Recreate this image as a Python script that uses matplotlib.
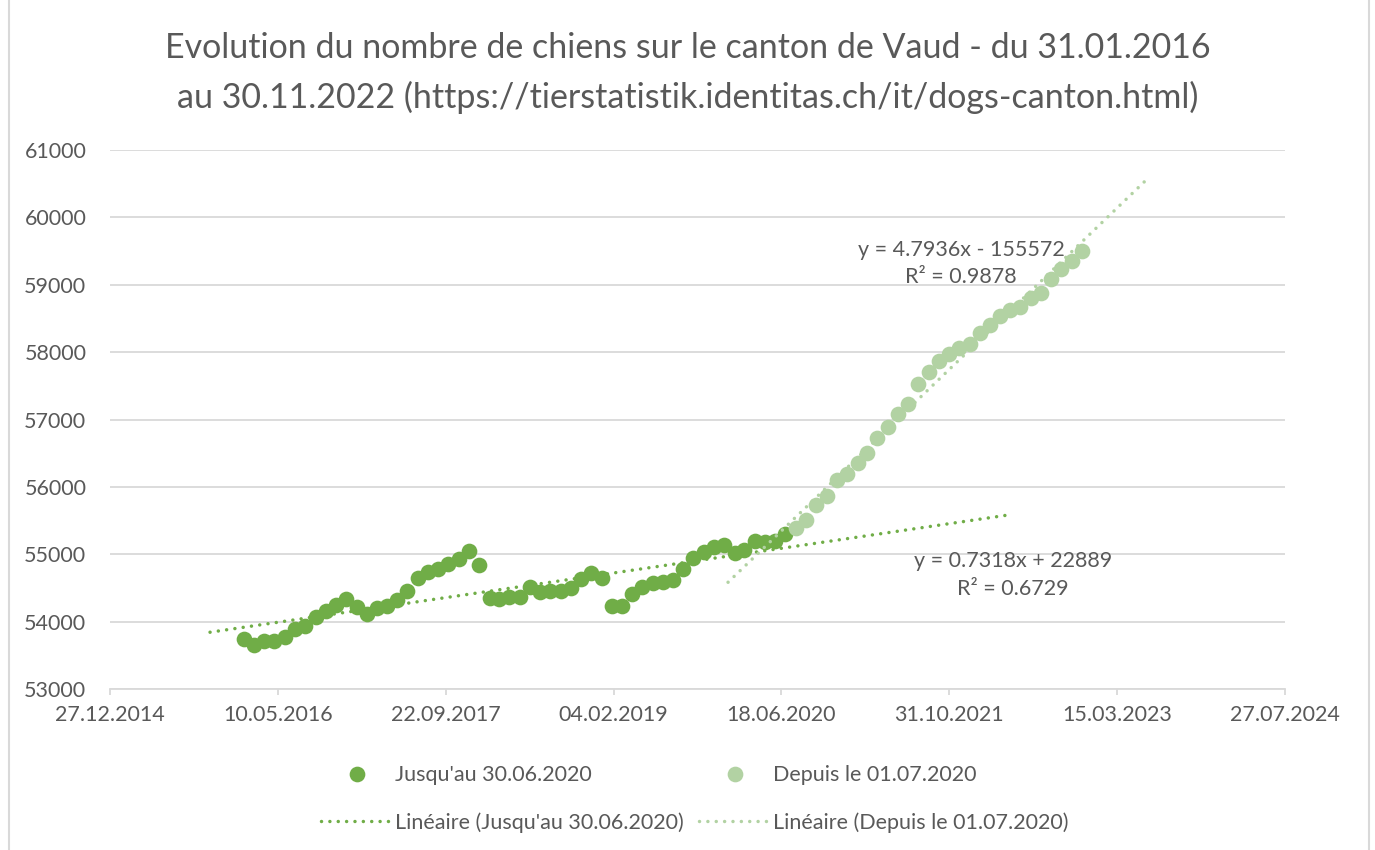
import matplotlib
matplotlib.use('Agg')
import matplotlib.pyplot as plt
import pandas as pd
import numpy as np
from matplotlib.lines import Line2D

plt.rcParams['font.family'] = ['Lato', 'DejaVu Sans']

# ---------------- data ----------------
EXCEL_EPOCH = pd.Timestamp('1899-12-30')

title_text = ("Evolution du nombre de chiens sur le canton de Vaud - du 31.01.2016\n"
              "au 30.11.2022 (https://tierstatistik.identitas.ch/it/dogs-canton.html)")

before_label = "Jusqu'au 30.06.2020"
before_start = '2016-01-31'
before_values = [53744, 53660, 53719, 53719, 53769, 53892, 53941, 54065, 54163, 54247,
                 54336, 54213, 54114, 54198, 54228, 54326, 54459, 54642, 54731, 54780,
                 54854, 54928, 55051, 54844, 54346, 54336, 54370, 54361, 54509, 54444,
                 54459, 54459, 54499, 54632, 54716, 54642, 54228, 54237, 54410, 54509,
                 54573, 54592, 54622, 54780, 54938, 55027, 55101, 55135, 55017, 55066,
                 55199, 55184, 55199, 55298]

after_label = "Depuis le 01.07.2020"
after_start = '2020-07-31'
after_values = [55391, 55504, 55737, 55860, 56108, 56198, 56357, 56505, 56728, 56892,
                57080, 57230, 57520, 57703, 57866, 57966, 58055, 58114, 58288, 58397,
                58535, 58624, 58675, 58808, 58872, 59080, 59239, 59352, 59501]

# trendlines as displayed (x = Excel date serial)
before_slope, before_intercept, before_r2 = 0.7318, 22889, 0.6729
after_slope, after_intercept, after_r2 = 4.7936, -155572, 0.9878
before_trend_range = ['2015-10-21', '2022-04-15']
after_trend_range = ['2020-01-11', '2023-06-11']

x_tick_labels = ['27.12.2014', '10.05.2016', '22.09.2017', '04.02.2019',
                 '18.06.2020', '31.10.2021', '15.03.2023', '27.07.2024']
y_ticks = [53000, 54000, 55000, 56000, 57000, 58000, 59000, 60000, 61000]


def to_serial(dates):
    return np.asarray((pd.to_datetime(dates) - EXCEL_EPOCH).days, dtype=float)


before_x = to_serial(pd.date_range(before_start, periods=len(before_values), freq='ME'))
after_x = to_serial(pd.date_range(after_start, periods=len(after_values), freq='ME'))
x_ticks = to_serial(pd.to_datetime(x_tick_labels, format='%d.%m.%Y'))

# ---------------- styling ----------------
DARK = '#70AD47'
LIGHT = '#B2D2A3'
TEXT = '#595959'
GRID = '#D9D9D9'

W, H = 1375, 850
fig = plt.figure(figsize=(W / 100, H / 100), dpi=100)
fig.patch.set_facecolor('white')

ax = fig.add_axes([110 / W, 1 - 689 / H, 1175 / W, 539 / H])

ms = 11.3
ax.plot(before_x, before_values, 'o', color=DARK, ms=ms, mec='none', zorder=3)
ax.plot(after_x, after_values, 'o', color=LIGHT, ms=ms, mec='none', zorder=3)

dot_style = (0, (0.01, 2.4))
bx = to_serial(before_trend_range)
ax.plot(bx, before_slope * bx + before_intercept, color=DARK, lw=2.5,
        linestyle=dot_style, dash_capstyle='round', zorder=4)
axx = to_serial(after_trend_range)
ax.plot(axx, after_slope * axx + after_intercept, color=LIGHT, lw=2.5,
        linestyle=dot_style, dash_capstyle='round', zorder=4)

ax.set_xlim(x_ticks[0], x_ticks[-1])
ax.set_ylim(y_ticks[0], y_ticks[-1])
ax.set_xticks(x_ticks)
ax.set_xticklabels(x_tick_labels)
ax.set_yticks(y_ticks)
ax.set_yticklabels([str(v) for v in y_ticks])

for s in ['top', 'right', 'left']:
    ax.spines[s].set_visible(False)
ax.spines['bottom'].set_color(GRID)
ax.spines['bottom'].set_linewidth(1.3)
ax.grid(axis='y', color=GRID, lw=1.3, zorder=0)
ax.set_axisbelow(True)
ax.tick_params(axis='x', colors=GRID, length=4.5, width=1.3, direction='out',
               labelcolor=TEXT, labelsize=15.5, pad=7)
ax.tick_params(axis='y', length=0, labelcolor=TEXT, labelsize=15.5, pad=17)

# trendline equations
def eq(slope, intercept):
    sign = '+' if intercept >= 0 else '-'
    return f"y = {slope}x {sign} {abs(intercept)}"

fig.text(961 / W, 1 - 250 / H, eq(after_slope, after_intercept), ha='center', va='center',
         color=TEXT, fontsize=15.5)
fig.text(961 / W, 1 - 277 / H, f"R² = {after_r2}", ha='center', va='center',
         color=TEXT, fontsize=15.5)
fig.text(1013 / W, 1 - 561 / H, eq(before_slope, before_intercept), ha='center', va='center',
         color=TEXT, fontsize=15.5)
fig.text(1013 / W, 1 - 589 / H, f"R² = {before_r2}", ha='center', va='center',
         color=TEXT, fontsize=15.5)

# title
fig.text(688 / W, 1 - 73 / H, title_text, ha='center', va='center', color=TEXT,
         fontsize=24.5, linespacing=1.6)

# legend
handles = [
    Line2D([], [], marker='o', color=DARK, ls='none', ms=ms, mec='none'),
    Line2D([], [], color=DARK, lw=2.5, ls=dot_style, dash_capstyle='round'),
    Line2D([], [], marker='o', color=LIGHT, ls='none', ms=ms, mec='none'),
    Line2D([], [], color=LIGHT, lw=2.5, ls=dot_style, dash_capstyle='round'),
]
labels = [before_label, f"Linéaire ({before_label})", after_label, f"Linéaire ({after_label})"]
leg = fig.legend(handles, labels, ncol=2, loc='center', bbox_to_anchor=(695 / W, 1 - 799 / H),
                 frameon=False, fontsize=15.5, handlelength=3.3, handletextpad=0.15,
                 columnspacing=0.7, labelspacing=1.25, numpoints=1)
for t in leg.get_texts():
    t.set_color(TEXT)

# chart border
fig.add_artist(Line2D([9 / W, 9 / W], [0, 1], color=GRID, lw=1.5, transform=fig.transFigure))
fig.add_artist(Line2D([1369 / W, 1369 / W], [0, 1], color=GRID, lw=1.5, transform=fig.transFigure))

fig.savefig('out.png', dpi=100, facecolor='white')
